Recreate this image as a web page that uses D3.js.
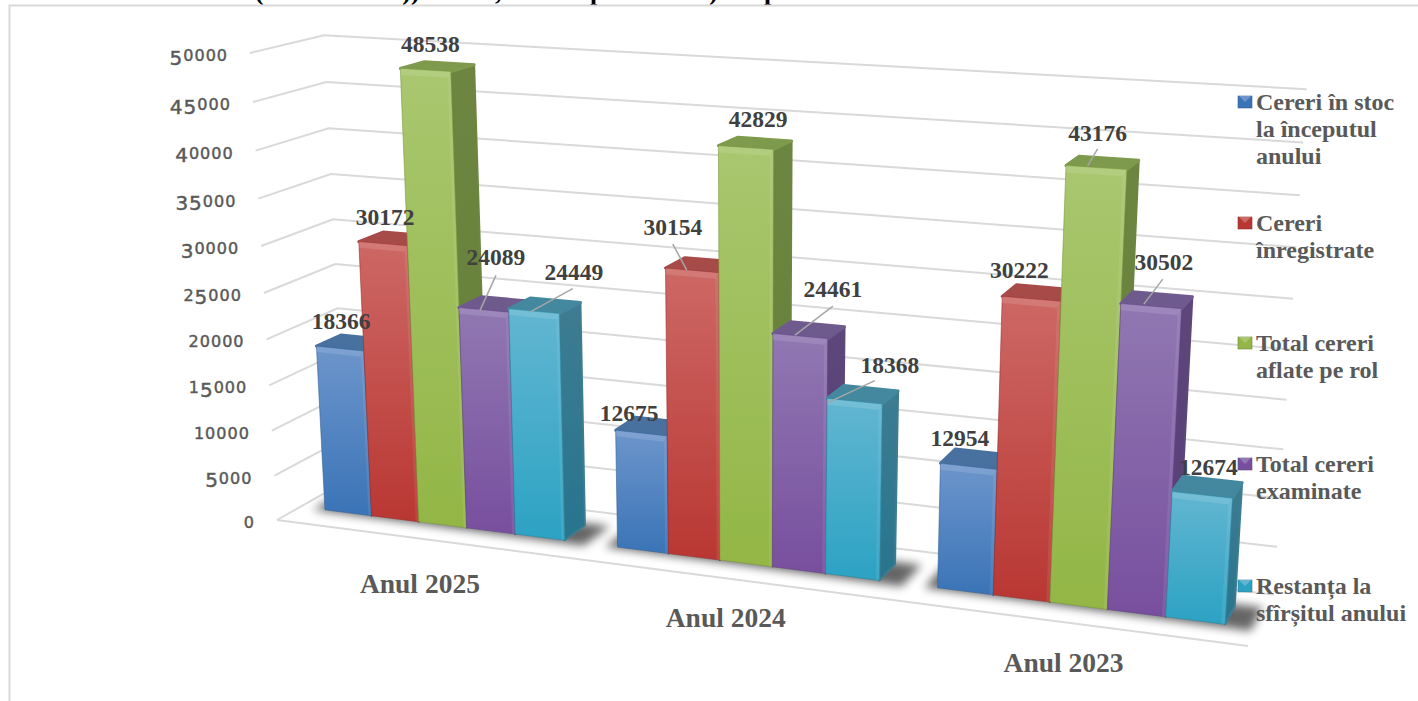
<!DOCTYPE html>
<html>
<head>
<meta charset="utf-8">
<script src="https://cdnjs.cloudflare.com/ajax/libs/d3/7.8.5/d3.min.js"></script>
<style>
	html, body { margin: 0; padding: 0; background: #fff; }
	svg { display: block; }
	.axis-label { font-family: "DejaVu Sans", sans-serif; font-weight: 400; fill: #595959; stroke: #595959; stroke-width: 0.45; letter-spacing: 1px; }
	.data-label { font-family: "Liberation Serif", serif; font-weight: 700; font-size: 23.5px; fill: #404040; text-anchor: middle; }
	.cat-label { font-family: "Liberation Serif", serif; font-weight: 700; font-size: 27.5px; fill: #595959; text-anchor: middle; }
	.legend-label { font-family: "Liberation Serif", serif; font-weight: 700; font-size: 24px; fill: #595959; }
	.grid { fill: none; stroke: #d9d9d9; stroke-width: 2; }
	.leader { stroke: #a6a6a6; stroke-width: 1.5; }
</style>
</head>
<body>
<div class="chart"></div>
<script>
const years = ['Anul 2025', 'Anul 2024', 'Anul 2023'];
const seriesNames = ['Cereri în stoc la începutul anului', 'Cereri înregistrate', 'Total cereri aflate pe rol', 'Total cereri examinate', 'Restanța la sfîrșitul anului'];
const legendLines = [
	['Cereri în stoc', 'la începutul', 'anului'],
	['Cereri', 'înregistrate'],
	['Total cereri', 'aflate pe rol'],
	['Total cereri', 'examinate'],
	['Restanța la', 'sfîrșitul anului']
];
const stocInceput = [18366, 12675, 12954];
const inregistrate = [30172, 30154, 30222];
const totalRol = [48538, 42829, 43176];
const examinate = [24089, 24461, 30502];
const restanta = [24449, 18368, 12674];
const seriesValues = [stocInceput, inregistrate, totalRol, examinate, restanta];
const valueTicks = [0, 5000, 10000, 15000, 20000, 25000, 30000, 35000, 40000, 45000, 50000];

const width = 1418, height = 701;

// front, side, top colours per series
const colours = [
	{ hi: '#6d95cb', lo: '#3a74b7', side: '#35608f', sideLo: '#2f5d94', top: '#48719f' },
	{ hi: '#cd6865', lo: '#b93733', side: '#8f3331', sideLo: '#8f3331', top: '#a74b49' },
	{ hi: '#a9c76f', lo: '#93b646', side: '#6c8540', sideLo: '#66803a', top: '#7e9a4c' },
	{ hi: '#9078b2', lo: '#784f9e', side: '#5d4779', sideLo: '#573c7a', top: '#6f5a8e' },
	{ hi: '#62b6d1', lo: '#2ca2c3', side: '#3e7c91', sideLo: '#27758e', top: '#44889f' }
];

// data label placement, relative to the top of its bar: [series][year] = [dx, dy]
const labelShift = [
	[[-11, -22], [-22, -13], [-16, -21]],
	[[-10, -22], [-29, -38], [-19, -23]],
	[[-7, -23], [3, -24], [-5, -30]],
	[[1, -47], [24, -41], [7, -38]],
	[[29, -34], [27, -30], [1, -20]]
];
// leader lines: from label centre + [sx, sy] to bar top + [ex, ey]
const leaders = [
	{ s: 1, y: 1, from: [0, 17], to: [-15, 5] },
	{ s: 2, y: 2, from: [0, 16], to: [-15, 3] },
	{ s: 3, y: 0, from: [0, 18], to: [-15, 6] },
	{ s: 3, y: 1, from: [0, 17], to: [-14, 5] },
	{ s: 3, y: 2, from: [-1, 17], to: [-13, 4] },
	{ s: 4, y: 0, from: [-1, 17], to: [-14, 6] },
	{ s: 4, y: 1, from: [-15, 16], to: [-35, 8] }
];
const catShift = [[-1, 54], [-3, 48], [-3, 50]];

// old style figures for the axis: none of the installed fonts gives them, so size and drop each digit
const figureStyle = {
	'0': { size: 16, drop: 0 }, '1': { size: 16, drop: 0 }, '2': { size: 16, drop: 0 },
	'3': { size: 20, drop: 3.5 }, '4': { size: 20, drop: 3.5 }, '5': { size: 20, drop: 3.5 }
};

// 3d box: u along categories, v depth, w height. all 0..1
const corner = { O: [277, 520], U: [1248, 646], V: [346, 481], W: [250, 53] };
const persp = { a: -0.13, b: 0.05, c: -0.054 };
const px = [corner.U[0] * (1 + persp.a) - corner.O[0], corner.V[0] * (1 + persp.b) - corner.O[0], corner.W[0] * (1 + persp.c) - corner.O[0]];
const py = [corner.U[1] * (1 + persp.a) - corner.O[1], corner.V[1] * (1 + persp.b) - corner.O[1], corner.W[1] * (1 + persp.c) - corner.O[1]];

function project(u, v, w) {
	const d = 1 + persp.a * u + persp.b * v + persp.c * w;
	return [
		(corner.O[0] + px[0] * u + px[1] * v + px[2] * w) / d,
		(corner.O[1] + py[0] * u + py[1] * v + py[2] * w) / d
	];
}

const depth = d3.scaleLinear().domain([0, 1]).range([0.33, 0.68]);
const wScale = d3.scaleLinear().domain([0, 50000]).range([0, 1]);
const uGroup = d3.scaleBand().domain(years).range([0, 1]).paddingInner(0.175).paddingOuter(0.0875);
const uBar = d3.scaleBand().domain(seriesNames).range([0, uGroup.bandwidth()]);
const poly = (pts) => d3.line()(pts) + 'Z';

function barTop(yi, si) {
	const u = uGroup(years[yi]) + uBar(seriesNames[si]) + uBar.bandwidth() / 2;
	return project(u, (depth(0) + depth(1)) / 2, wScale(seriesValues[si][yi]));
}

const svg = d3.select('.chart').append('svg').attr('width', width).attr('height', height);
const defs = svg.append('defs');

colours.forEach(function (c, i) {
	let g = defs.append('linearGradient').attr('id', 'front' + i).attr('x1', 0).attr('y1', 0).attr('x2', 0).attr('y2', 1);
	g.append('stop').attr('offset', 0).attr('stop-color', c.hi);
	g.append('stop').attr('offset', 1).attr('stop-color', c.lo);
	g = defs.append('linearGradient').attr('id', 'side' + i).attr('x1', 0).attr('y1', 0).attr('x2', 0).attr('y2', 1);
	g.append('stop').attr('offset', 0).attr('stop-color', c.side);
	g.append('stop').attr('offset', 1).attr('stop-color', c.sideLo);
});
defs.append('filter').attr('id', 'blur').attr('x', '-10%').attr('y', '-30%').attr('width', '120%').attr('height', '160%')
	.append('feGaussianBlur').attr('stdDeviation', 5);
defs.append('clipPath').attr('id', 'headClip').append('rect').attr('width', width).attr('height', 5);

// heading of the page behind the chart, cut off by the frame
const headBits = [['(', 255], ['))', 402], [',', 495], ['p', 590], [')', 709], ['p', 764]];
svg.append('g').attr('clip-path', 'url(#headClip)')
	.selectAll('text').data(headBits).enter().append('text')
	.attr('x', (d) => d[1]).attr('y', 0)
	.attr('font-family', 'Liberation Serif').attr('font-weight', 700).attr('font-size', 26).attr('fill', '#000')
	.text((d) => d[0]);

// frame
svg.append('path').attr('d', d3.line()([[9.5, height], [9.5, 5.5], [width, 5.5]]))
	.attr('fill', 'none').attr('stroke', '#d9d9d9').attr('stroke-width', 2);

// walls and floor
valueTicks.forEach(function (t) {
	const w = wScale(t);
	svg.append('path').attr('class', 'grid').attr('d', d3.line()([project(0, 0, w), project(0, 1, w), project(1, 1, w)]));
});
svg.append('path').attr('class', 'grid').attr('d', d3.line()([project(0, 0, 0), project(1, 0, 0)]));

valueTicks.forEach(function (t) {
	const p = project(0, 0, wScale(t));
	const label = svg.append('text').attr('class', 'axis-label')
		.attr('text-anchor', 'end')
		.attr('x', p[0] - 22)
		.attr('y', p[1] + 8);
	let prevDrop = 0;
	String(t).split('').forEach(function (ch) {
		const f = figureStyle[ch];
		label.append('tspan').attr('font-size', f.size).attr('dy', f.drop - prevDrop).text(ch);
		prevDrop = f.drop;
	});
});

// shadows under each cluster
years.forEach(function (y) {
	const u0 = uGroup(y), u1 = u0 + uGroup.bandwidth();
	svg.append('path')
		.attr('d', poly([project(u0 - 0.012, depth(0) - 0.03, 0), project(u1 + 0.025, depth(0) - 0.06, 0), project(u1 + 0.025, depth(1) + 0.05, 0), project(u0 - 0.012, depth(1) + 0.05, 0)]))
		.attr('fill', '#000').attr('opacity', 0.6).attr('filter', 'url(#blur)');
});

// bars, left to right so that the right sides overlap correctly
years.forEach(function (y, yi) {
	seriesNames.forEach(function (s, si) {
		const u0 = uGroup(y) + uBar(s), u1 = u0 + uBar.bandwidth();
		const v0 = depth(0), v1 = depth(1), w = wScale(seriesValues[si][yi]);
		const c = colours[si];
		const bevelW = 0.013, bevelU = 0.0035;
		const bar = svg.append('g').attr('class', 'bar');
		bar.append('path')
			.attr('d', poly([project(u1, v0, 0), project(u1, v1, 0), project(u1, v1, w), project(u1, v0, w)]))
			.attr('fill', 'url(#side' + si + ')').attr('stroke', c.side).attr('stroke-width', 2).attr('stroke-linejoin', 'round');
		bar.append('path')
			.attr('d', poly([project(u0, v0, w), project(u1, v0, w), project(u1, v1, w), project(u0, v1, w)]))
			.attr('fill', c.top).attr('stroke', c.top).attr('stroke-width', 3).attr('stroke-linejoin', 'round');
		bar.append('path')
			.attr('d', poly([project(u0, v0, 0), project(u1, v0, 0), project(u1, v0, w), project(u0, v0, w)]))
			.attr('fill', 'url(#front' + si + ')').attr('stroke', d3.color(c.lo).darker(0.5)).attr('stroke-width', 0.6).attr('stroke-linejoin', 'round');
		// bevel: light band along top and right of the front
		bar.append('path')
			.attr('d', poly([project(u0, v0, w), project(u1, v0, w), project(u1 - bevelU, v0, w - bevelW), project(u0, v0, w - bevelW)]))
			.attr('fill', '#fff').attr('opacity', 0.12);
		bar.append('path')
			.attr('d', poly([project(u1 - bevelU, v0, 0), project(u1, v0, 0), project(u1, v0, w), project(u1 - bevelU, v0, w - bevelW)]))
			.attr('fill', '#fff').attr('opacity', 0.08);
	});
});

// data labels
const labelPos = (si, yi) => { const t = barTop(yi, si), o = labelShift[si][yi]; return [t[0] + o[0], t[1] + o[1]]; };

leaders.forEach(function (l) {
	const p = labelPos(l.s, l.y), t = barTop(l.y, l.s);
	svg.append('line').attr('class', 'leader')
		.attr('x1', p[0] + l.from[0]).attr('y1', p[1] + l.from[1])
		.attr('x2', t[0] + l.to[0]).attr('y2', t[1] + l.to[1]);
});
seriesNames.forEach(function (s, si) {
	years.forEach(function (y, yi) {
		const p = labelPos(si, yi);
		svg.append('text').attr('class', 'data-label').attr('x', p[0]).attr('y', p[1] + 8).text(seriesValues[si][yi]);
	});
});

// category labels under the floor
years.forEach(function (y, i) {
	const p = project(uGroup(y) + uGroup.bandwidth() / 2, 0, 0);
	svg.append('text').attr('class', 'cat-label').attr('x', p[0] + catShift[i][0]).attr('y', p[1] + catShift[i][1]).text(y);
});

// legend
const legendY = [102, 223, 343, 464, 586];
seriesNames.forEach(function (s, i) {
	const c = colours[i];
	const g = svg.append('g').attr('transform', 'translate(1238,' + legendY[i] + ')');
	g.append('rect').attr('x', 0).attr('y', -6).attr('width', 14).attr('height', 12).attr('fill', c.lo).attr('stroke', c.side).attr('stroke-width', 0.6);
	g.append('path').attr('d', poly([[1, -6], [13, -6], [7, 0]])).attr('fill', c.hi);
	legendLines[i].forEach(function (line, li) {
		g.append('text').attr('class', 'legend-label').attr('x', 18).attr('y', 8 + li * 27).text(line);
	});
});
</script>
</body>
</html>
